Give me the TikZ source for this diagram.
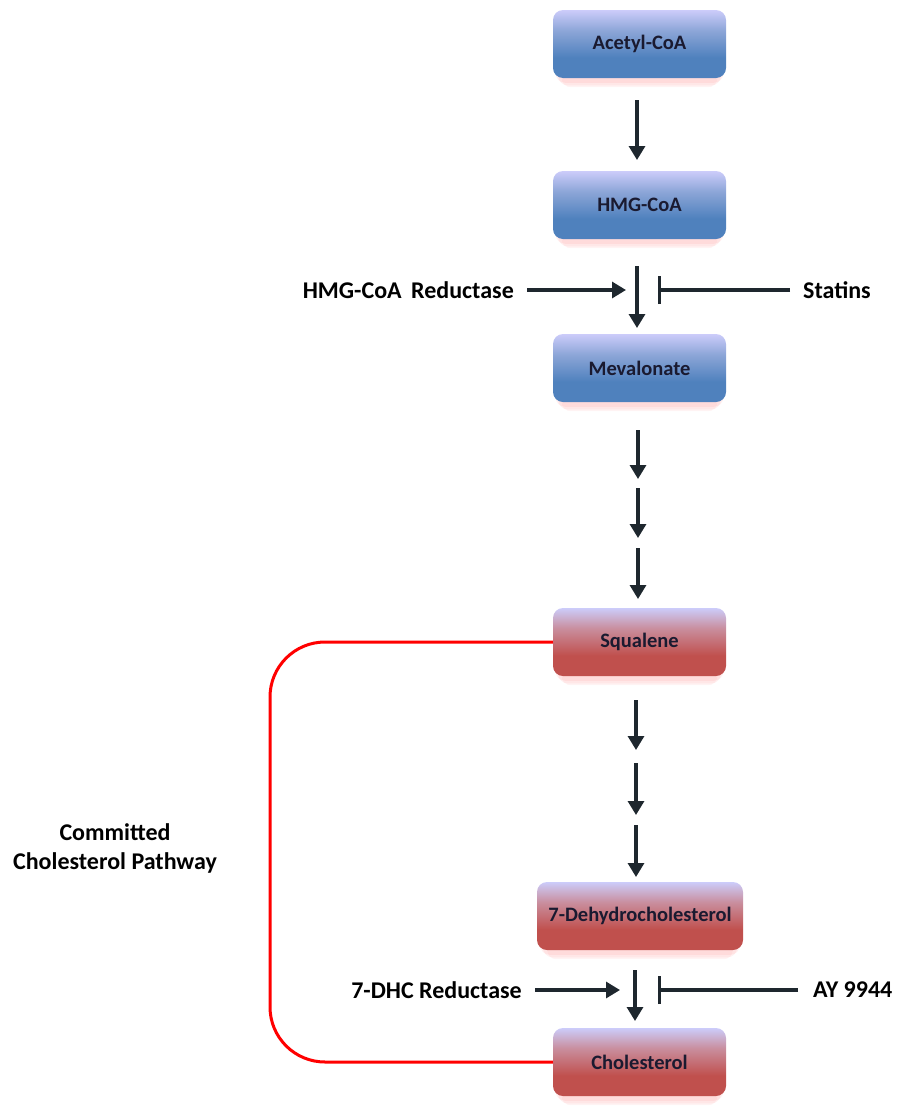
\documentclass[tikz,border=0pt]{standalone}
\usepackage{fontspec}
\setmainfont{Carlito}
\usetikzlibrary{arrows.meta,shadows}
\definecolor{ltop}{HTML}{CCCCFA}
\definecolor{bblue}{HTML}{4F81BD}
\definecolor{bmid}{HTML}{8DA6D8}
\definecolor{rred}{HTML}{C0504D}
\definecolor{rmid}{HTML}{C98E9E}
\definecolor{arrowc}{HTML}{1E272E}
\definecolor{boxtext}{HTML}{1A1A30}
\pgfdeclareverticalshading{blueshade}{100bp}{color(0bp)=(bblue); color(25bp)=(bblue); color(40bp)=(bblue); color(60bp)=(bmid); color(75bp)=(ltop); color(100bp)=(ltop)}
\pgfdeclareverticalshading{redshade}{100bp}{color(0bp)=(rred); color(25bp)=(rred); color(40bp)=(rred); color(60bp)=(rmid); color(75bp)=(ltop); color(100bp)=(ltop)}
\tikzset{
  box/.style={rounded corners=10pt, minimum width=173pt, minimum height=68pt,
    inner sep=0pt, font=\bfseries\fontsize{20.5}{24}\selectfont, text=boxtext,
    general shadow={shadow yshift=-14pt, shadow scale=0.90, fill=red!45, opacity=0.10},
    general shadow={shadow yshift=-10pt, shadow scale=0.94, fill=red!40, opacity=0.14},
    general shadow={shadow yshift=-6pt, shadow scale=0.97, fill=red!35, opacity=0.18}},
  bluebox/.style={box, shading=blueshade},
  redbox/.style={box, shading=redshade},
  flow/.style={draw=arrowc, line width=3.2pt, -{Triangle[length=14pt,width=16pt]}},
  act/.style={draw=arrowc, line width=3.2pt, -{Triangle[length=14pt,width=16pt]}},
  inh/.style={draw=arrowc, line width=3.2pt, -{Bar[width=28pt,line width=3.2pt]}},
  lbl/.style={font=\bfseries\fontsize{24}{29}\selectfont, text=black, inner sep=0pt},
  cpath/.style={draw=red, line width=3pt, rounded corners=55pt}
}
\begin{document}
\begin{tikzpicture}[x=1pt,y=-1pt]
\useasboundingbox (0,0) rectangle (902,1114);
\node[bluebox] (acetyl) at (639.5,44) {Acetyl-CoA};
\node[bluebox] (hmg) at (639.5,205) {HMG-CoA};
\node[bluebox] (meva) at (639.5,368) {Mevalonate};
\node[redbox] (squa) at (639.5,642) {Squalene};
\node[redbox, minimum width=206pt] (dhc) at (640,916) {7-Dehydrocholesterol};
\node[redbox] (chol) at (639.5,1062) {Cholesterol};
% arrows
\coordinate (c1a) at (637,100); \coordinate (c1b) at (637,160);
\draw[flow] (c1a) -- (c1b);
\coordinate (c2a) at (637,266); \coordinate (c2b) at (637,328);
\draw[flow] (c2a) -- (c2b);
\coordinate (m1a) at (638,430); \coordinate (m1b) at (638,479);
\coordinate (m2a) at (638,488); \coordinate (m2b) at (638,538);
\coordinate (m3a) at (638,548); \coordinate (m3b) at (638,599);
\draw[flow] (m1a) -- (m1b);
\draw[flow] (m2a) -- (m2b);
\draw[flow] (m3a) -- (m3b);
\coordinate (s1a) at (636,700); \coordinate (s1b) at (636,750);
\coordinate (s2a) at (636,763); \coordinate (s2b) at (636,815);
\coordinate (s3a) at (636,825); \coordinate (s3b) at (636,877);
\draw[flow] (s1a) -- (s1b);
\draw[flow] (s2a) -- (s2b);
\draw[flow] (s3a) -- (s3b);
\coordinate (d1a) at (635,970); \coordinate (d1b) at (635,1021);
\draw[flow] (d1a) -- (d1b);
% regulators
\node[lbl, anchor=east] (hmgr) at (514,290) {HMG-CoA\ \,Reductase};
\node[lbl, anchor=west] (stat) at (803,290) {Statins};
\coordinate (hr0) at (527,290); \coordinate (hr1) at (626,290);
\coordinate (st0) at (790,290); \coordinate (st1) at (658,290);
\draw[act] (hr0) -- (hr1);
\draw[inh] (st0) -- (st1);
\node[lbl, anchor=east] (dhcr) at (522,990) {7-DHC Reductase};
\node[lbl, anchor=west] (ay) at (813,990) {AY 9944};
\coordinate (dr0) at (535,990); \coordinate (dr1) at (620,990);
\coordinate (ay0) at (798,990); \coordinate (ay1) at (658,990);
\draw[act] (dr0) -- (dr1);
\draw[inh] (ay0) -- (ay1);
% committed pathway
\coordinate (lc) at (270,850);
\draw[cpath] (squa.west) -| (lc) |- (chol.west);
\node[lbl, align=center] (comm) at (115,848) {Committed\\Cholesterol Pathway};
\end{tikzpicture}
\end{document}
